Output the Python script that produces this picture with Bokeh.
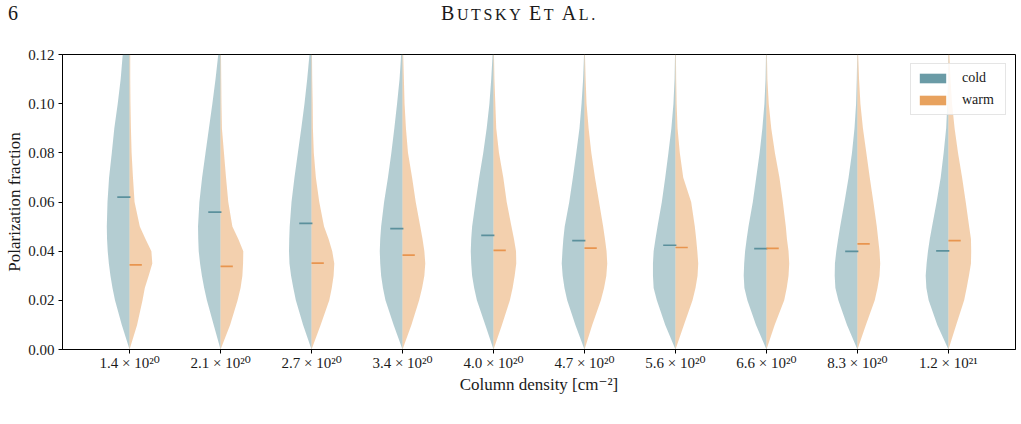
from bokeh.plotting import figure
from bokeh.layouts import column
from bokeh.models import (Range1d, FixedTicker, NumeralTickFormatter, Legend,
                          LegendItem, Div)
from bokeh.embed import file_html
from bokeh.resources import INLINE

# ---- data -------------------------------------------------------------
column_density_labels = ["1.4 × 10²⁰", "2.1 × 10²⁰", "2.7 × 10²⁰", "3.4 × 10²⁰",
                         "4.0 × 10²⁰", "4.7 × 10²⁰", "5.6 × 10²⁰", "6.6 × 10²⁰",
                         "8.3 × 10²⁰", "1.2 × 10²¹"]

# polarization-fraction levels at which the kernel density profile is sampled
density_grid = [0.0, 0.01, 0.02, 0.025, 0.03, 0.035, 0.04, 0.045, 0.05,
                0.06, 0.07, 0.08, 0.09, 0.10, 0.11, 0.12]

# relative density (1 = widest point of each half violin)
cold_density = [
    [0, .34, .64, .75, .84, .91, .96, .99, 1.0, .97, .90, .78, .67, .52, .39, .30],
    [0, .30, .60, .72, .82, .90, .96, .98, .99, .93, .81, .66, .51, .36, .22, .10],
    [0, .37, .69, .80, .90, .97, .99, .98, .96, .88, .75, .60, .45, .31, .19, .09],
    [0, .39, .75, .86, .94, .98, 1.0, .98, .94, .81, .64, .49, .36, .24, .13, .06],
    [0, .36, .73, .85, .94, .98, 1.0, .98, .94, .79, .63, .45, .30, .18, .10, .04],
    [0, .40, .76, .88, .96, 1.0, .97, .93, .87, .67, .51, .36, .22, .13, .06, .02],
    [0, .45, .82, .96, .99, .99, .96, .88, .79, .60, .45, .31, .18, .09, .04, .02],
    [0, .46, .84, .97, 1.0, .98, .94, .87, .79, .60, .45, .30, .18, .09, .04, .02],
    [0, .46, .84, .97, 1.0, .99, .93, .85, .76, .57, .39, .24, .13, .06, .03, .01],
    [0, .49, .87, .97, 1.0, .96, .90, .82, .72, .52, .34, .21, .10, .05, .02, .01],
]
warm_density = [
    [0, .33, .57, .67, .84, 1.0, .96, .70, .45, .22, .15, .09, .06, .04, .03, .03],
    [0, .42, .75, .88, .96, .99, 1.0, .78, .52, .34, .24, .15, .06, .04, .03, .02],
    [0, .40, .78, .89, .97, 1.0, .91, .75, .55, .34, .19, .10, .06, .05, .03, .02],
    [0, .39, .73, .86, .96, 1.0, .96, .88, .78, .58, .42, .24, .15, .09, .06, .03],
    [0, .37, .72, .84, .93, 1.0, .99, .90, .79, .58, .43, .24, .12, .08, .04, .02],
    [0, .34, .72, .86, .96, 1.0, .97, .90, .82, .64, .46, .30, .18, .09, .05, .02],
    [0, .37, .75, .88, .97, 1.0, .96, .91, .85, .69, .34, .19, .09, .05, .03, .02],
    [0, .36, .78, .89, .97, 1.0, .97, .90, .85, .72, .57, .37, .21, .10, .04, .02],
    [0, .37, .76, .88, .97, 1.0, .97, .91, .85, .70, .54, .39, .24, .13, .07, .03],
    [0, .34, .69, .80, .90, .99, 1.0, .99, .91, .76, .60, .42, .27, .16, .09, .04],
]

cold_median = [0.0620, 0.0559, 0.0513, 0.0492, 0.0464, 0.0443, 0.0424, 0.0410, 0.0399, 0.0401]
warm_median = [0.0344, 0.0338, 0.0351, 0.0384, 0.0403, 0.0412, 0.0415, 0.0411, 0.0430, 0.0443]

y_ticks = [0.0, 0.02, 0.04, 0.06, 0.08, 0.10, 0.12]

# ---- styling ----------------------------------------------------------
COLD = "#6a9ba6"
WARM = "#e8a25e"
COLD_MED = "#5b909c"
WARM_MED = "#e8954f"
FONT = "Liberation Serif, DejaVu Serif"
INK = "#1a1a1a"
HALF_WIDTH = 0.25      # widest half-violin, in category units
MED_LEN = 0.135        # length of the median tick
HEADER_H = 30

p = figure(width=1021, height=424 - HEADER_H, output_backend="svg",
           toolbar_location=None,
           x_range=Range1d(-0.737, 9.737), y_range=Range1d(0, 0.12),
           min_border_left=62, min_border_right=6,
           min_border_top=54 - HEADER_H, min_border_bottom=75)
p.background_fill_color = "white"
p.border_fill_color = "white"
p.outline_line_color = "black"
p.outline_line_width = 1
p.xgrid.visible = False
p.ygrid.visible = False

# half violins
n = len(column_density_labels)
cold_xs, cold_ys, warm_xs, warm_ys = [], [], [], []
for i in range(n):
    top = density_grid[-1]
    cold_xs.append([i - HALF_WIDTH * f for f in cold_density[i]] + [i, i])
    cold_ys.append(list(density_grid) + [top, 0.0])
    warm_xs.append([i + HALF_WIDTH * f for f in warm_density[i]] + [i, i])
    warm_ys.append(list(density_grid) + [top, 0.0])

p.patches(cold_xs, cold_ys, fill_color=COLD, fill_alpha=0.5, line_color=None)
p.patches(warm_xs, warm_ys, fill_color=WARM, fill_alpha=0.5, line_color=None)

# medians
idx = list(range(n))
p.segment(x0=[i - MED_LEN for i in idx], x1=[i + 0.01 for i in idx],
          y0=cold_median, y1=cold_median, line_color=COLD_MED, line_width=1.7)
p.segment(x0=idx, x1=[i + MED_LEN for i in idx],
          y0=warm_median, y1=warm_median, line_color=WARM_MED, line_width=1.7)

# legend keys in solid colour (no visible geometry of their own)
nan = float("nan")
cold_key = p.quad(left=[nan], right=[nan], top=[nan], bottom=[nan],
                  fill_color=COLD, line_color=None)
warm_key = p.quad(left=[nan], right=[nan], top=[nan], bottom=[nan],
                  fill_color=WARM, line_color=None)
legend = Legend(items=[LegendItem(label="cold", renderers=[cold_key]),
                       LegendItem(label="warm", renderers=[warm_key])],
                location="top_right", margin=9, padding=5, spacing=4,
                label_height=18, label_width=38, glyph_height=12, glyph_width=33,
                label_standoff=13, label_text_font=FONT,
                label_text_font_size="14px", label_text_color=INK,
                border_line_color="#cccccc", border_line_width=1,
                background_fill_alpha=0.85)
p.add_layout(legend)

# axes
p.xaxis.ticker = FixedTicker(ticks=idx)
p.xaxis.major_label_overrides = {i: lab for i, lab in enumerate(column_density_labels)}
p.yaxis.ticker = FixedTicker(ticks=y_ticks)
p.yaxis.formatter = NumeralTickFormatter(format="0.00")
p.xaxis.axis_label = "Column density [cm⁻²]"
p.yaxis.axis_label = "Polarization fraction"
for ax in (p.xaxis, p.yaxis):
    ax.axis_line_color = "black"
    ax.major_tick_line_color = "black"
    ax.major_tick_in = 0
    ax.major_tick_out = 4
    ax.minor_tick_line_color = None
    ax.major_label_text_font = FONT
    ax.major_label_text_font_size = "15px"
    ax.major_label_text_color = INK
    ax.axis_label_text_font = FONT
    ax.axis_label_text_font_size = "17px"
    ax.axis_label_text_font_style = "normal"
    ax.axis_label_text_color = INK
p.xaxis.major_label_standoff = 1
p.yaxis.major_label_standoff = 4
p.xaxis.axis_label_standoff = 1
p.yaxis.axis_label_standoff = 1

# running page header: page number and small-caps author line
big = "font-size:20px;"
small = "font-size:16px;"
header_html = (
    f'<div style="position:relative;width:1021px;height:{HEADER_H}px;'
    f'font-family:\'Liberation Serif\';color:{INK};">'
    '<span style="position:absolute;left:8px;top:3px;font-size:20px;'
    'line-height:1;">6</span>'
    '<span style="position:absolute;left:441px;top:3px;line-height:1;'
    'letter-spacing:2.6px;white-space:nowrap;">'
    f'<span style="{big}">B</span><span style="{small}">UTSKY</span> '
    f'<span style="{big}">E</span><span style="{small}">T</span> '
    f'<span style="{big}">A</span><span style="{small}">L.</span>'
    '</span></div>'
)
header = Div(text=header_html, width=1021, height=HEADER_H, margin=(0, 0, 0, 0))

layout = column(header, p, spacing=0)
open("out.html", "w").write(file_html(layout, INLINE))
